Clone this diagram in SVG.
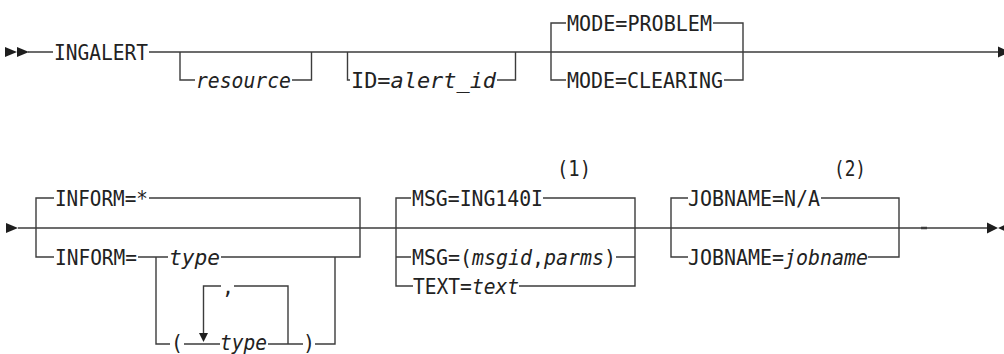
<svg xmlns="http://www.w3.org/2000/svg" width="1004" height="354" viewBox="0 0 1004 354">
<style>
.ln{fill:none;stroke:#3c3c3c;stroke-width:1.4;}
.ah{fill:#1e1e1e;stroke:none;}
text{font-family:"DejaVu Sans Mono","Liberation Mono",monospace;font-size:22px;fill:#222;}
.v{font-style:italic;}
</style>
<rect width="1004" height="354" fill="#ffffff"/>
<g id="connectors">
  <path class="ln" d="M28,52 H53 M149,52 H998"/>
  <path class="ln" d="M180,52 V80 H195 M292,80 H311.5 V52"/>
  <path class="ln" d="M347.5,52 V80 H350 M497,80 H515.5 V52"/>
  <path class="ln" d="M566,23 H551 V80 H566 M713,23 H743 V80 H724"/>
  <polygon class="ah" points="5,47 17,52 5,57"/>
  <polygon class="ah" points="17,47 29,52 17,57"/>
  <polygon class="ah" points="998,46.5 1010,52 998,57.5"/>

  <polygon class="ah" points="6,223 18,228 6,233"/>
  <path class="ln" d="M18,228 H987"/>
  <path class="ln" d="M54,198 H36 V257 H54 M149,198 H360 V257 H221 M138,257 H168"/>
  <path class="ln" d="M156,257 V344 H170 M184,344 H220 M268,344 H303 M315,344 H335 V257"/>
  <path class="ln" d="M203.5,333 V286 H221 M234,286 H288 V344"/>
  <polygon class="ah" points="199,333 208,333 203.5,342"/>
  <path class="ln" d="M411,198 H396 V286 H413 M396,257 H411 M543,198 H635 V286 H519 M616,257 H635"/>
  <path class="ln" d="M688,198 H671 V257 H688 M821,198 H899 V257 H868"/>
  <path class="ln" d="M921,228 H927" style="stroke-width:2.5"/>
  <polygon class="ah" points="987,222.5 998,228 987,233.5"/>
  <polygon class="ah" points="1010,222.5 998,228 1010,233.5"/>
</g>
<g id="n-ingalert"><text x="54" y="60" textLength="94" lengthAdjust="spacingAndGlyphs">INGALERT</text></g>
<g id="n-resource"><text class="v" x="196" y="88" textLength="95" lengthAdjust="spacingAndGlyphs">resource</text></g>
<g id="n-id"><text x="351" y="88" textLength="145" lengthAdjust="spacingAndGlyphs">ID=<tspan class="v">alert_id</tspan></text></g>
<g id="n-mode-problem"><text x="567" y="31" textLength="145" lengthAdjust="spacingAndGlyphs">MODE=PROBLEM</text></g>
<g id="n-mode-clearing"><text x="567" y="88" textLength="156" lengthAdjust="spacingAndGlyphs">MODE=CLEARING</text></g>
<g id="n-inform-star"><text x="55" y="206" textLength="93" lengthAdjust="spacingAndGlyphs">INFORM=*</text></g>
<g id="n-inform"><text x="55" y="265" textLength="82" lengthAdjust="spacingAndGlyphs">INFORM=</text></g>
<g id="n-type"><text class="v" x="169" y="265" textLength="51" lengthAdjust="spacingAndGlyphs">type</text></g>
<g id="n-lparen"><text x="171" y="350" textLength="12" lengthAdjust="spacingAndGlyphs">(</text></g>
<g id="n-type-list"><text class="v" x="220" y="350" textLength="47" lengthAdjust="spacingAndGlyphs">type</text></g>
<g id="n-comma"><text x="222" y="294" textLength="12" lengthAdjust="spacingAndGlyphs">,</text></g>
<g id="n-rparen"><text x="303" y="350" textLength="12" lengthAdjust="spacingAndGlyphs">)</text></g>
<g id="n-msg-default"><text x="412" y="206" textLength="131" lengthAdjust="spacingAndGlyphs">MSG=ING140I</text></g>
<g id="n-note1"><text x="557" y="176" textLength="34" lengthAdjust="spacingAndGlyphs">(1)</text></g>
<g id="n-msg-parms"><text x="412" y="265" textLength="204" lengthAdjust="spacingAndGlyphs">MSG=(<tspan class="v">msgid</tspan>,<tspan class="v">parms</tspan>)</text></g>
<g id="n-text"><text x="413" y="294" textLength="106" lengthAdjust="spacingAndGlyphs">TEXT=<tspan class="v">text</tspan></text></g>
<g id="n-jobname-default"><text x="688" y="206" textLength="132" lengthAdjust="spacingAndGlyphs">JOBNAME=N/A</text></g>
<g id="n-note2"><text x="834" y="176" textLength="32" lengthAdjust="spacingAndGlyphs">(2)</text></g>
<g id="n-jobname"><text x="688" y="265" textLength="180" lengthAdjust="spacingAndGlyphs">JOBNAME=<tspan class="v">jobname</tspan></text></g>
</svg>
